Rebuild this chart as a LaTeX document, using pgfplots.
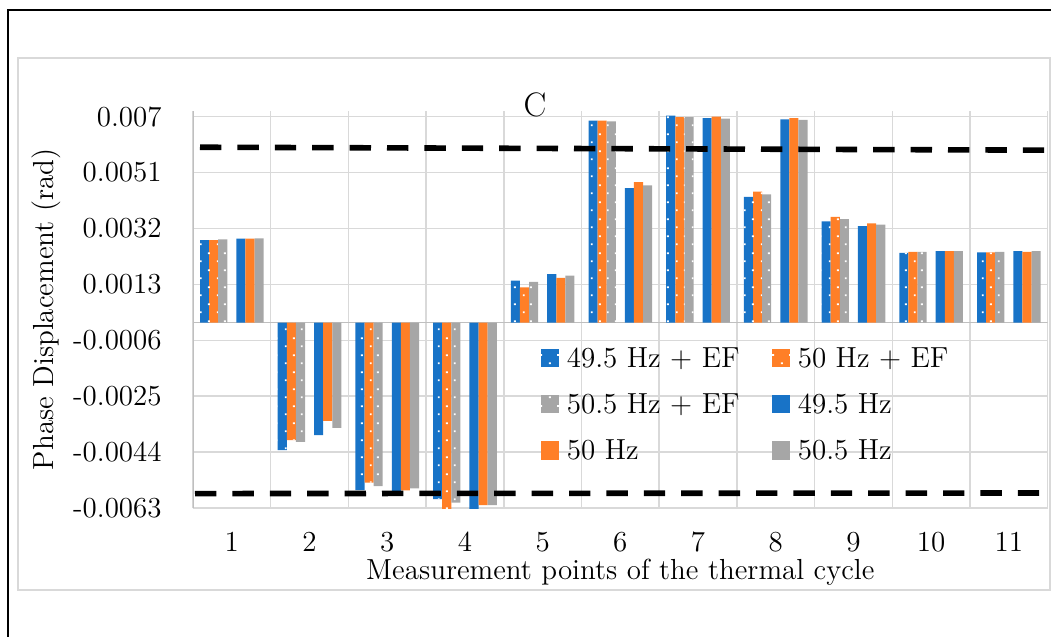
\documentclass[border=0pt]{standalone}
\usepackage{pgfplots}
\usepackage{pgfplotstable}
\pgfplotsset{compat=1.18}
\usetikzlibrary{patterns}

\definecolor{cblue}{RGB}{24,115,199}
\definecolor{corange}{RGB}{255,127,39}
\definecolor{cgray}{RGB}{166,166,166}
\definecolor{cgrid}{RGB}{217,217,217}
\definecolor{caxis}{RGB}{191,191,191}

% sparse white dots for the "+ EF" series
\pgfdeclarepatternformonly{efdots}{\pgfqpoint{0pt}{0pt}}{\pgfqpoint{8.3pt}{8.5pt}}{\pgfqpoint{8.3pt}{8.5pt}}{%
  \pgfpathrectangle{\pgfqpoint{0.4pt}{0.4pt}}{\pgfqpoint{1pt}{1pt}}%
  \pgfpathrectangle{\pgfqpoint{4.55pt}{4.65pt}}{\pgfqpoint{1pt}{1pt}}%
  \pgfusepath{fill}}

\tikzset{
  efbar/.style={fill=#1, draw=none, postaction={pattern=efdots, pattern color=white}},
  plainbar/.style={fill=#1, draw=none},
}

\newcommand\lblfont{\fontsize{14.5}{17}\selectfont}

% columns: 49.5+EF, 50+EF, 50.5+EF, 49.5, 50, 50.5
\pgfplotstableread{
x  a        b        c        d        e        f
1  0.00280  0.00280  0.00283  0.00285  0.00285  0.00286
2  -0.00433 -0.00399 -0.00405 -0.00382 -0.00334 -0.00358
3  -0.00569 -0.00544 -0.00556 -0.00573 -0.00570 -0.00563
4  -0.00600 -0.00634 -0.00612 -0.00634 -0.00620 -0.00620
5  0.00143  0.00120  0.00138  0.00165  0.00152  0.00160
6  0.00686  0.00686  0.00684  0.00457  0.00477  0.00466
7  0.00703  0.00698  0.00698  0.00695  0.00700  0.00693
8  0.00427  0.00445  0.00436  0.00691  0.00695  0.00689
9  0.00344  0.00359  0.00352  0.00328  0.00337  0.00333
10 0.00237  0.00240  0.00240  0.00243  0.00243  0.00243
11 0.00239  0.00239  0.00240  0.00243  0.00240  0.00243
}\phasedata

\begin{document}
\begin{tikzpicture}
\useasboundingbox (0,0) rectangle (525.5pt,-318.5pt);
\draw[cgrid, line width=0.75pt] (9pt,-29pt) rectangle (525pt,-295pt);

\begin{axis}[
    at={(96.5pt,-254pt)}, anchor=south west,
    scale only axis,
    width=427.35pt, height=198.65pt,
    xmin=0.5, xmax=11.5,
    ymin=-0.0063, ymax=0.0072,
    xtick={1,...,11},
    xticklabels={1,2,3,4,5,6,7,8,9,10,11},
    minor xtick={0.5,1.5,...,11.5},
    xmajorgrids=false, xminorgrids=true,
    ytick={-0.0063,-0.0044,-0.0025,-0.0006,0.0013,0.0032,0.0051,0.007},
    yticklabels={-0.0063,-0.0044,-0.0025,-0.0006,0.0013,0.0032,0.0051,0.007},
    scaled y ticks=false,
    ymajorgrids=true,
    grid style={cgrid, line width=0.75pt},
    minor grid style={cgrid, line width=0.75pt},
    axis line style={draw=none},
    tick style={draw=none},
    xticklabel style={font=\lblfont, inner sep=0pt, yshift=-11.8pt},
    yticklabel style={font=\lblfont, inner sep=0pt, xshift=-15.5pt},
    xlabel={Measurement points of the thermal cycle},
    xlabel style={font=\lblfont, at={(axis description cs:0.5,-0.161)}, anchor=center},
    ylabel={Phase Displacement (rad)},
    ylabel style={font=\lblfont, at={(axis description cs:-0.172,0.5)}, anchor=center},
    legend columns=2,
    legend image code/.code={\fill[#1] (0pt,-4pt) rectangle (9pt,5.3pt);},
    legend style={
        at={(axis description cs:0.4068,0.406)}, anchor=north west,
        draw=none, fill=none, inner sep=0pt,
        font=\lblfont,
        nodes={inner sep=0pt, text height=10pt, text depth=2pt},
        column sep=0pt, row sep=11.15pt,
        /tikz/every odd column/.append style={column sep=3.9pt},
    },
]
\draw[caxis, line width=0.75pt] (axis cs:0.5,-0.0063) -- (axis cs:0.5,0.0072);
\draw[caxis, line width=0.75pt] (axis cs:0.5,0) -- (axis cs:11.5,0);

\addplot[ybar, bar width=0.117, bar shift=-0.351, efbar=cblue] table[x=x, y=a] {\phasedata};
\addlegendentry{\makebox[102.6pt][l]{49.5 Hz + EF}}
\addplot[ybar, bar width=0.117, bar shift=-0.234, efbar=corange] table[x=x, y=b] {\phasedata};
\addlegendentry{\makebox[102.6pt][l]{50 Hz + EF}}
\addplot[ybar, bar width=0.117, bar shift=-0.117, efbar=cgray] table[x=x, y=c] {\phasedata};
\addlegendentry{\makebox[102.6pt][l]{50.5 Hz + EF}}
\addplot[ybar, bar width=0.117, bar shift=0.117, plainbar=cblue] table[x=x, y=d] {\phasedata};
\addlegendentry{\makebox[102.6pt][l]{49.5 Hz}}
\addplot[ybar, bar width=0.117, bar shift=0.234, plainbar=corange] table[x=x, y=e] {\phasedata};
\addlegendentry{\makebox[102.6pt][l]{50 Hz}}
\addplot[ybar, bar width=0.117, bar shift=0.351, plainbar=cgray] table[x=x, y=f] {\phasedata};
\addlegendentry{\makebox[102.6pt][l]{50.5 Hz}}

% limit lines
\addplot[black, line width=2.8pt, mark=none, dash pattern=on 10.7pt off 8pt, dash phase=15.2pt, forget plot]
  coordinates {(0.5,0.00596) (11.5,0.00586)};
\addplot[black, line width=2.8pt, mark=none, dash pattern=on 10.7pt off 8pt, dash phase=17.7pt, forget plot]
  coordinates {(0.5,-0.00581) (11.5,-0.00579)};
\end{axis}

\node[font=\fontsize{17}{20}\selectfont] at (267.5pt,-52.5pt) {C};
\draw[black, line width=1pt] (4pt,-330pt) -- (4pt,-5pt) -- (535pt,-5pt);
\end{tikzpicture}
\end{document}
